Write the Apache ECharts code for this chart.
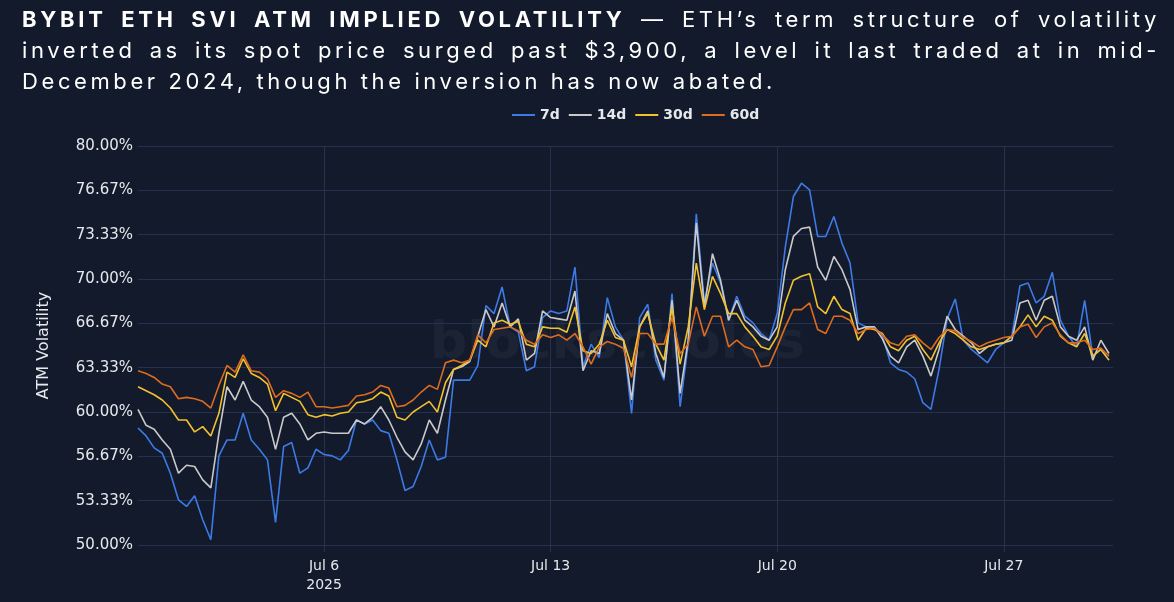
<!DOCTYPE html>
<html>
<head>
<meta charset="utf-8">
<script src="https://cdn.jsdelivr.net/npm/echarts@6/dist/echarts.min.js"></script>
<style>
  html, body { margin: 0; padding: 0; background: #121a2c; }
  #wrap { position: relative; width: 1174px; height: 602px; }
  #chart { position: absolute; left: 0; top: 0; width: 1174px; height: 602px; }
  #title { position: absolute; left: 22px; top: 4px; width: 1138px; color: #ffffff;
    font-family: Inter, 'Noto Sans', sans-serif; font-size: 22px; letter-spacing: 3.6px; line-height: 31px; z-index: 2; }
  #title .ln { white-space: nowrap; text-align: justify; text-align-last: justify; }
  #title .ln.last { text-align-last: left; }
  #title b { font-weight: 700; letter-spacing: 3.7px; }
</style>
</head>
<body>
<div id="wrap">
  <div id="chart"></div>
  <div id="title">
    <div class="ln"><b>BYBIT ETH SVI ATM IMPLIED VOLATILITY</b> — ETH’s term structure of volatility</div>
    <div class="ln">inverted as its spot price surged past $3,900, a level it last traded at in mid-</div>
    <div class="ln last">December 2024, though the inversion has now abated.</div>
  </div>
</div>
<script>
// 6-hourly samples starting Jun 30 06:00
const startTime = new Date(2025, 5, 30, 6).getTime();
const stepMs = 6 * 3600 * 1000;

const seriesNames = ['7d', '14d', '30d', '60d'];
const seriesColors = ['#3d7ae6', '#c9c9c9', '#f2c12e', '#dd6c1f'];

const iv7d = [
  58.8, 58.2, 57.3, 56.9, 55.4, 53.4, 52.9, 53.7, 51.9, 50.4, 56.7, 57.9, 57.9, 59.9, 57.9, 57.2, 56.4, 51.7, 57.4, 57.7, 55.4, 55.8, 57.2, 56.8,
  56.7, 56.4, 57.1, 59.4, 59.1, 59.4, 58.6, 58.4, 56.4, 54.1, 54.4, 55.9, 57.9, 56.4, 56.6, 62.4, 62.4, 62.4, 63.5, 68.0, 67.4, 69.4, 66.4,
  66.0, 63.1, 63.4, 67.1, 67.6, 67.4, 67.6, 70.9, 63.4, 65.1, 64.1, 68.6, 66.4, 65.4, 59.9, 67.1, 68.1, 63.9, 62.4, 68.9, 60.4, 65.1, 74.9,
  68.2, 71.2, 69.7, 66.9, 68.7, 67.2, 66.7, 65.9, 65.4, 67.4, 72.4, 76.2, 77.2, 76.7, 73.2, 73.2, 74.7, 72.7, 71.2, 66.7, 66.4, 66.4, 65.7, 63.7,
  63.2, 63.0, 62.5, 60.7, 60.2, 63.2, 67.0, 68.5, 65.4, 64.7, 64.2, 63.7, 64.7, 65.2, 65.7, 69.5, 69.7, 68.2, 68.7, 70.5, 66.9, 65.7, 64.9, 68.4, 64.2, 64.7, 63.9
];
const iv14d = [
  60.2, 59.0, 58.7, 57.9, 57.2, 55.4, 56.0, 55.9, 54.9, 54.3, 58.4, 61.9, 60.9, 62.3, 60.9, 60.4, 59.6, 57.2, 59.6, 59.9, 59.1, 57.9, 58.4, 58.5,
  58.4, 58.4, 58.4, 59.4, 59.1, 59.6, 60.4, 59.4, 58.1, 57.0, 56.4, 57.6, 59.4, 58.4, 60.9, 63.2, 63.4, 63.8, 65.7, 67.7, 66.4, 68.2, 66.4,
  67.0, 63.9, 64.4, 67.6, 67.1, 67.0, 66.9, 69.1, 63.1, 64.6, 64.4, 67.4, 65.9, 65.4, 60.9, 66.4, 67.6, 64.4, 62.6, 68.4, 61.4, 65.4, 74.2,
  67.9, 71.9, 69.9, 66.9, 68.4, 66.9, 66.4, 65.7, 65.4, 66.4, 70.7, 73.2, 73.8, 73.9, 70.9, 69.9, 71.7, 70.7, 69.2, 66.2, 66.4, 66.4, 65.5, 64.2,
  63.7, 64.9, 65.4, 64.2, 62.7, 64.7, 67.2, 66.2, 65.7, 65.2, 64.4, 64.9, 65.1, 65.2, 65.4, 68.2, 68.4, 66.9, 68.4, 68.7, 66.4, 65.7, 65.4, 66.4, 63.9, 65.4, 64.4
];
const iv30d = [
  61.9, 61.6, 61.3, 60.9, 60.3, 59.4, 59.4, 58.5, 58.9, 58.2, 59.9, 63.0, 62.6, 64.0, 62.9, 62.6, 62.1, 60.1, 61.4, 61.1, 60.8, 59.8, 59.6, 59.8,
  59.7, 59.9, 60.0, 60.7, 60.8, 61.0, 61.5, 61.2, 59.6, 59.4, 60.0, 60.4, 60.8, 60.0, 62.2, 63.2, 63.5, 63.9, 65.4, 64.9, 66.7, 66.9, 66.6,
  66.8, 65.1, 64.9, 66.4, 66.3, 66.3, 66.0, 67.9, 64.6, 64.4, 65.1, 66.9, 65.6, 65.4, 63.4, 66.4, 67.4, 65.1, 63.9, 67.9, 63.6, 66.4, 71.2,
  67.7, 70.2, 68.9, 67.4, 67.4, 66.4, 65.7, 64.9, 64.7, 65.7, 68.2, 69.9, 70.2, 70.4, 67.9, 67.4, 68.7, 67.7, 67.4, 65.4, 66.3, 66.2, 65.9, 64.9,
  64.6, 65.4, 65.7, 64.7, 63.9, 65.2, 66.2, 65.9, 65.4, 64.9, 64.7, 64.9, 65.1, 65.2, 65.7, 66.4, 67.3, 66.4, 67.2, 66.9, 65.7, 65.2, 64.9, 65.9, 64.2, 64.7, 63.9
];
const iv60d = [
  63.1, 62.9, 62.6, 62.1, 61.9, 61.0, 61.1, 61.0, 60.8, 60.3, 62.0, 63.5, 63.0, 64.3, 63.1, 63.0, 62.5, 61.1, 61.6, 61.4, 61.1, 61.5, 60.4, 60.4,
  60.3, 60.4, 60.5, 61.2, 61.3, 61.5, 62.0, 61.8, 60.4, 60.5, 60.9, 61.5, 62.0, 61.7, 63.7, 63.9, 63.7, 63.9, 65.8, 65.2, 66.2, 66.3, 66.4,
  66.1, 65.4, 65.1, 65.8, 65.6, 65.8, 65.4, 65.9, 64.9, 63.6, 64.9, 65.3, 65.1, 64.8, 62.6, 65.9, 65.9, 65.1, 65.1, 67.1, 64.4, 65.1, 67.9,
  65.7, 67.2, 67.2, 64.9, 65.4, 64.9, 64.7, 63.4, 63.5, 64.9, 66.4, 67.7, 67.7, 68.2, 66.2, 65.9, 67.2, 67.2, 66.9, 65.9, 66.2, 66.3, 65.8, 65.2,
  65.0, 65.7, 65.8, 65.2, 64.7, 65.6, 66.2, 66.1, 65.6, 65.3, 64.9, 65.2, 65.4, 65.6, 65.7, 66.4, 66.6, 65.6, 66.4, 66.7, 65.8, 65.2, 65.2, 65.4, 64.7, 64.8, 64.2
];

const tickDates = [new Date(2025, 6, 6), new Date(2025, 6, 13), new Date(2025, 6, 20), new Date(2025, 6, 27)].map(d => d.getTime());
const yTicks = { min: 50, max: 80, step: 10 / 3 };

const times = iv7d.map((_, i) => startTime + i * stepMs);
const pairs = arr => arr.map((v, i) => [times[i], v]);
const allSeries = [iv7d, iv14d, iv30d, iv60d];

const gridColor = '#25324f';
const textColor = '#e6e8ec';

const chart = echarts.init(document.getElementById('chart'));
const option = {
  backgroundColor: '#121a2c',
  animation: false,
  textStyle: { fontFamily: 'DejaVu Sans' },
  graphic: [{
    type: 'text',
    left: 430, top: 318,
    silent: true,
    style: { text: 'blockscholes', fill: 'rgba(255,255,255,0.045)', font: 'bold 52px "DejaVu Sans"' }
  }],
  legend: {
    data: seriesNames,
    left: 507, top: 103,
    icon: 'rect',
    itemWidth: 23, itemHeight: 2, itemGap: 9,
    textStyle: { color: textColor, fontSize: 14, fontWeight: 'bold' }
  },
  grid: { left: 138, right: 61, top: 146, bottom: 57, containLabel: false },
  xAxis: {
    type: 'value',
    min: times[0],
    max: times[times.length - 1] + 3 * 3600 * 1000,
    axisLine: { show: false },
    axisTick: { show: true, length: 7, customValues: tickDates, lineStyle: { color: gridColor } },
    splitLine: { show: true, lineStyle: { color: gridColor, width: 1 } },
    axisLabel: {
      customValues: tickDates,
      hideOverlap: false,
      color: textColor, fontSize: 14, lineHeight: 19, margin: 12,
      formatter(v) {
        const d = new Date(v);
        const s = 'Jul ' + d.getDate();
        return d.getDate() === 6 ? s + '\n2025' : s;
      }
    }
  },
  yAxis: {
    type: 'value',
    min: yTicks.min, max: yTicks.max, interval: yTicks.step,
    name: 'ATM Volatility',
    nameLocation: 'middle',
    nameGap: 86,
    nameTextStyle: { color: textColor, fontSize: 16 },
    axisLine: { show: false },
    axisTick: { show: false },
    splitLine: { lineStyle: { color: gridColor, width: 1 } },
    axisLabel: {
      color: textColor, fontSize: 15, margin: 5,
      formatter: v => v.toFixed(2) + '%'
    }
  },
  series: allSeries.map((arr, k) => ({
    name: seriesNames[k],
    type: 'line',
    data: pairs(arr),
    symbol: 'none',
    lineStyle: { width: 1.6, color: seriesColors[k] },
    itemStyle: { color: seriesColors[k] }
  }))
};
chart.setOption(option);
</script>
</body>
</html>
